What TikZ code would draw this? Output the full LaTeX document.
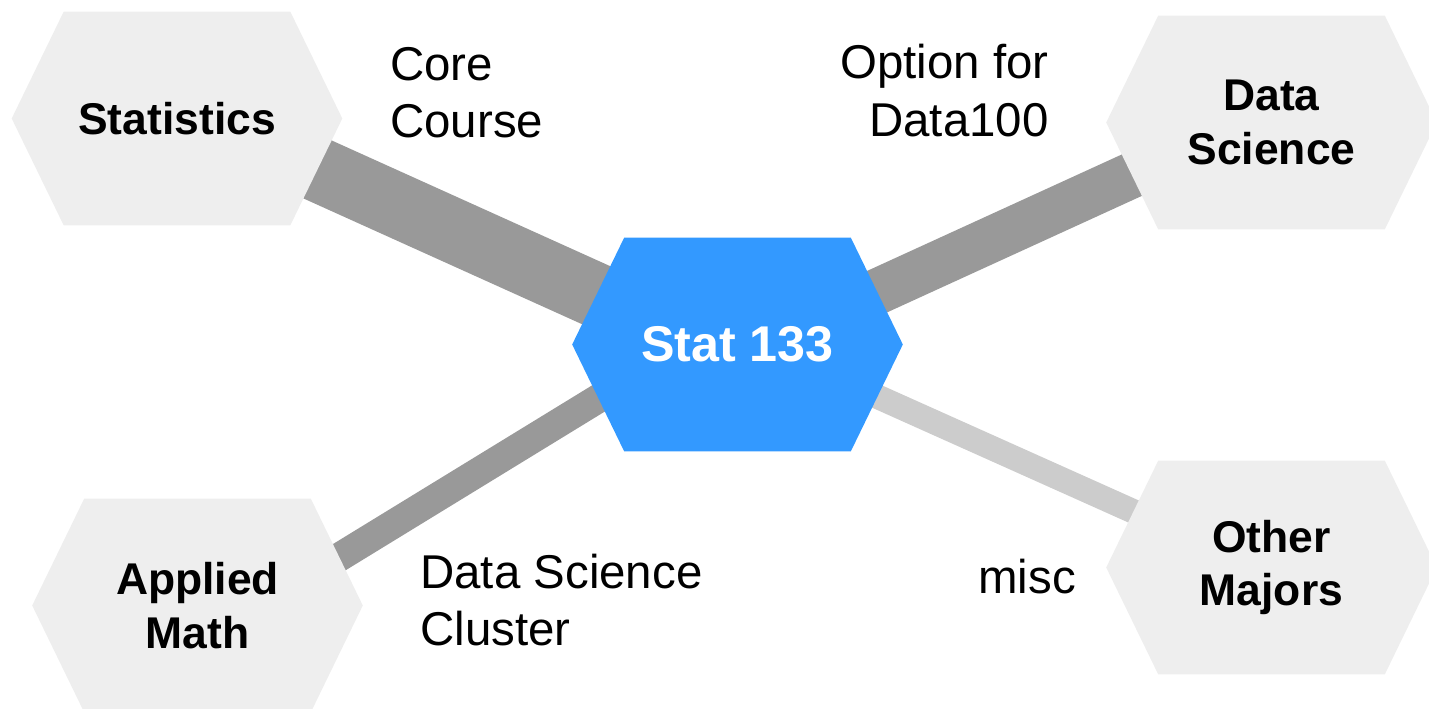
\documentclass[tikz,border=0pt]{standalone}
\usepackage{fontspec}
\setmainfont{Liberation Sans}
\usetikzlibrary{calc}
\definecolor{hexgray}{HTML}{EEEEEE}
\definecolor{hexblue}{HTML}{3399FF}
\definecolor{edgedark}{HTML}{999999}
\definecolor{edgelight}{HTML}{CCCCCC}
\pgfdeclarelayer{edges}
\pgfdeclarelayer{hexes}
\pgfsetlayers{edges,hexes,main}
\newcommand\hexfill[2]{%
  \fill[#2] (#1.west) -- ([xshift=1.04cm]#1.north west) -- ([xshift=-1.04cm]#1.north east)
    -- (#1.east) -- ([xshift=-1.04cm]#1.south east) -- ([xshift=1.04cm]#1.south west) -- cycle;}
\begin{document}
\begin{tikzpicture}[x=0.02cm,y=-0.02cm,
  hexnode/.style={font=\bfseries\fontsize{25.3}{30.5}\selectfont, align=center,
    minimum width=6.6cm, minimum height=4.26cm, inner sep=0pt},
  lab/.style={font=\fontsize{27}{32.5}\selectfont, inner sep=0pt},
  link/.style={line cap=butt}]
\useasboundingbox (0,0) rectangle (1429,709);
% hexagon nodes
\node[hexnode] (stat) at (177,118.5) {Statistics};
\node[hexnode, text=white, font=\bfseries\fontsize{28.6}{32}\selectfont] (s133) at (737.5,344.5) {Stat 133};
\node[hexnode] (ds) at (1271.5,122.5) {Data\\Science};
\node[hexnode] (om) at (1271.5,567.5) {Other\\Majors};
\node[hexnode] (am) at (197.5,605.5) {Applied\\Math};
\begin{pgfonlayer}{hexes}
\hexfill{stat}{hexgray}
\hexfill{ds}{hexgray}
\hexfill{om}{hexgray}
\hexfill{am}{hexgray}
\hexfill{s133}{hexblue}
\end{pgfonlayer}
\begin{pgfonlayer}{edges}
\draw[link, edgedark, line width=36.7pt] ($(stat.center)+(0,-12.5)$) -- ($(s133.center)+(0,14.5)$);
\draw[link, edgedark, line width=26.2pt] ($(ds.center)+(0,-11.2)$) -- ($(s133.center)+(0,11)$);
\draw[link, edgedark, line width=16.5pt] ($(am.center)+(0,38.5)$) -- ($(s133.center)+(0,-31.2)$);
\draw[link, edgelight, line width=13.9pt] ($(om.center)+(0,5.8)$) -- ($(s133.center)+(0,-10.5)$);
\end{pgfonlayer}
% edge labels
\node[lab, anchor=base west] (core) at (390,80.5) {\begin{tabular}[t]{@{}l@{}}Core\\Course\end{tabular}};
\node[lab, anchor=base east] (opt) at (1049,79) {\begin{tabular}[t]{@{}r@{}}Option for\\Data100\end{tabular}};
\node[lab, anchor=base west] (dsc) at (420,588.5) {\begin{tabular}[t]{@{}l@{}}Data Science\\Cluster\end{tabular}};
\node[lab, anchor=base west] (misc) at (978,593) {misc};
\end{tikzpicture}
\end{document}
